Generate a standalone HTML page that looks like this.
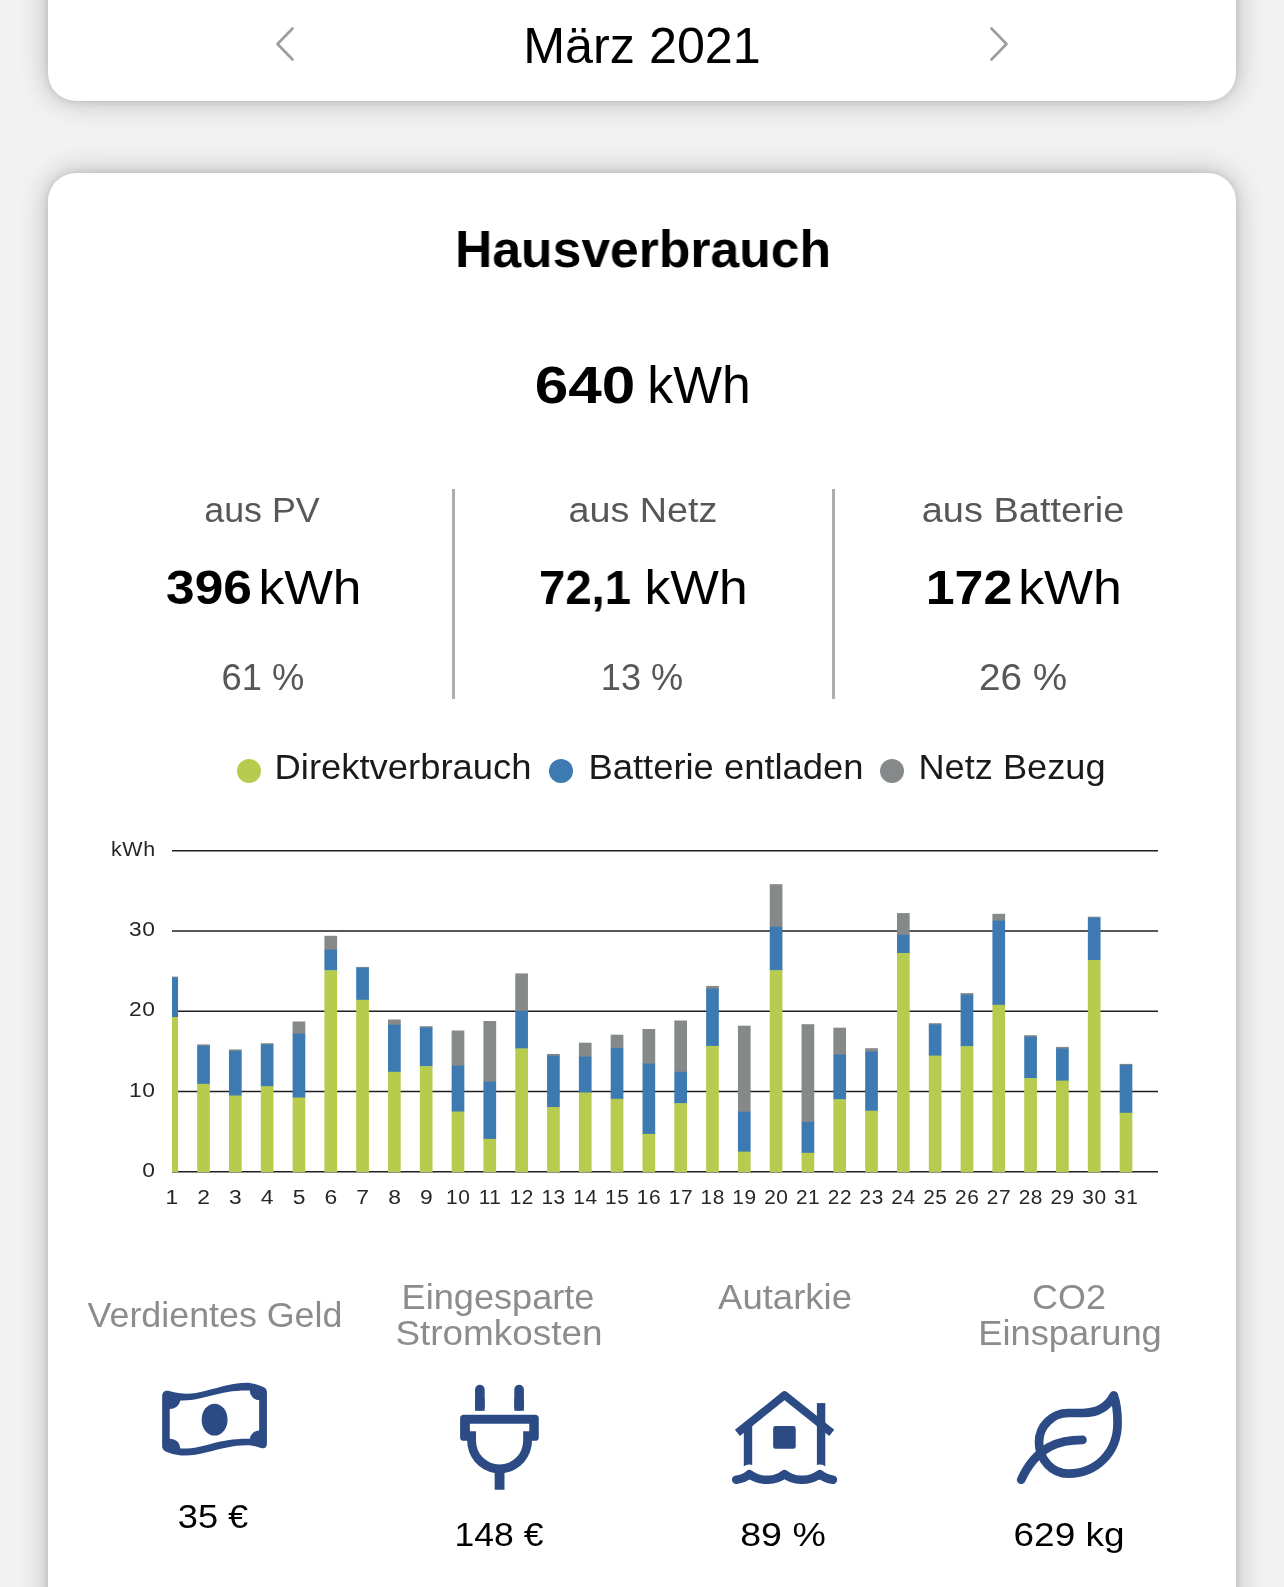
<!DOCTYPE html>
<html lang="de">
<head>
<meta charset="utf-8">
<title>Hausverbrauch – März 2021</title>
<style>
html,body{margin:0;padding:0;}
body{width:1284px;height:1587px;overflow:hidden;background:#f2f2f2;position:relative;
 font-family:"Liberation Sans",Arial,Helvetica,sans-serif;color:#000;}
.card{position:absolute;left:48px;width:1188px;background:#fff;border-radius:28px;
 box-shadow:0 0 8px rgba(0,0,0,.12),0 0 30px rgba(0,0,0,.24);}
#nav{top:-60px;height:161px;}
#main{top:173px;height:1500px;}
.t{will-change:transform;position:absolute;white-space:nowrap;line-height:1;transform:translateX(-50%);text-align:center;}
.b{font-weight:bold;}
.g5{color:#575757;}
.g8{color:#8b8d8d;}
.lg{color:#1a1a1a;}
.div{position:absolute;width:3px;top:489px;height:210px;background:#adadad;}
.dot{position:absolute;width:24px;height:24px;border-radius:50%;top:759px;}
svg{position:absolute;left:0;overflow:visible;}
.chart{top:820px;will-change:transform;}
.ax text{font-family:"Liberation Sans",Arial,sans-serif;font-size:19.5px;fill:#262626;letter-spacing:.5px;}
.ic{position:absolute;}
</style>
</head>
<body>
<div class="card" id="nav"></div>
<div class="card" id="main"></div>

<svg style="top:0" width="1284" height="100" viewBox="0 0 1284 100">
 <polyline points="292.5,28.5 277.5,44 292.5,59.5" fill="none" stroke="#9e9e9e" stroke-width="2.7" stroke-linecap="round" stroke-linejoin="round"/>
 <polyline points="991.5,28.5 1006.5,44 991.5,59.5" fill="none" stroke="#9e9e9e" stroke-width="2.7" stroke-linecap="round" stroke-linejoin="round"/>
</svg>


<div class="div" style="left:451.5px"></div>
<div class="div" style="left:831.5px"></div>

<div class="dot" style="left:237px;background:#b7cc4f"></div>
<div class="dot" style="left:549px;background:#3d7ab2"></div>
<div class="dot" style="left:880px;background:#86898a"></div>

<div class="t" id="marz" style="left:641.88px;top:20.77px;font-size:50px;transform:translateX(-50%) scaleX(1.0055)">März 2021</div>
<div class="t b" id="haus" style="left:642.78px;top:223.16px;font-size:52.5px;transform:translateX(-50%) scaleX(0.9836)">Hausverbrauch</div>
<div class="t b" id="n640" style="left:585.39px;top:359.53px;font-size:51px;transform:translateX(-50%) scaleX(1.1802)">640</div>
<div class="t" id="u640" style="left:698.59px;top:359.53px;font-size:51px;transform:translateX(-50%) scaleX(1.0134)">kWh</div>
<div class="t g5" id="l1" style="left:262.24px;top:492.85px;font-size:35.5px;transform:translateX(-50%) scaleX(1.0084)">aus PV</div>
<div class="t b" id="n1" style="left:208.60px;top:563.69px;font-size:47.5px;transform:translateX(-50%) scaleX(1.0834)">396</div>
<div class="t" id="u1" style="left:309.86px;top:563.69px;font-size:47.5px;transform:translateX(-50%) scaleX(1.0843)">kWh</div>
<div class="t g5" id="p1" style="left:262.80px;top:660.13px;font-size:36px;transform:translateX(-50%) scaleX(1.0088)">61 %</div>
<div class="t g5" id="l2" style="left:643.11px;top:492.85px;font-size:35.5px;transform:translateX(-50%) scaleX(1.0622)">aus Netz</div>
<div class="t b" id="n2" style="left:585.45px;top:563.69px;font-size:47.5px;transform:translateX(-50%) scaleX(0.9959)">72,1</div>
<div class="t" id="u2" style="left:696.08px;top:563.69px;font-size:47.5px;transform:translateX(-50%) scaleX(1.0856)">kWh</div>
<div class="t g5" id="p2" style="left:641.65px;top:660.13px;font-size:36px;transform:translateX(-50%) scaleX(1.0027)">13 %</div>
<div class="t g5" id="l3" style="left:1023.27px;top:492.85px;font-size:35.5px;transform:translateX(-50%) scaleX(1.0697)">aus Batterie</div>
<div class="t b" id="n3" style="left:969.39px;top:563.69px;font-size:47.5px;transform:translateX(-50%) scaleX(1.0941)">172</div>
<div class="t" id="u3" style="left:1069.62px;top:563.69px;font-size:47.5px;transform:translateX(-50%) scaleX(1.0897)">kWh</div>
<div class="t g5" id="p3" style="left:1023.11px;top:660.13px;font-size:36px;transform:translateX(-50%) scaleX(1.0746)">26 %</div>
<div class="t lg" id="lg1" style="left:403.21px;top:748.82px;font-size:35.3px;transform:translateX(-50%) scaleX(1.0310)">Direktverbrauch</div>
<div class="t lg" id="lg2" style="left:725.57px;top:748.82px;font-size:35.3px;transform:translateX(-50%) scaleX(1.0308)">Batterie entladen</div>
<div class="t lg" id="lg3" style="left:1012.00px;top:748.82px;font-size:35.3px;transform:translateX(-50%) scaleX(1.0257)">Netz Bezug</div>
<div class="t g8" id="k1" style="left:215.22px;top:1297.07px;font-size:35px;transform:translateX(-50%) scaleX(1.0230)">Verdientes Geld</div>
<div class="t g8" id="k2a" style="left:497.97px;top:1278.77px;font-size:35px;transform:translateX(-50%) scaleX(1.0323)">Eingesparte</div>
<div class="t g8" id="k2b" style="left:498.53px;top:1315.37px;font-size:35px;transform:translateX(-50%) scaleX(1.0545)">Stromkosten</div>
<div class="t g8" id="k3" style="left:784.97px;top:1278.77px;font-size:35px;transform:translateX(-50%) scaleX(1.0428)">Autarkie</div>
<div class="t g8" id="k4a" style="left:1068.56px;top:1278.77px;font-size:35px;transform:translateX(-50%) scaleX(1.0253)">CO2</div>
<div class="t g8" id="k4b" style="left:1069.80px;top:1315.37px;font-size:35px;transform:translateX(-50%) scaleX(1.0359)">Einsparung</div>
<div class="t" id="v1" style="left:213.35px;top:1498.72px;font-size:34px;transform:translateX(-50%) scaleX(1.0655)">35 €</div>
<div class="t" id="v2" style="left:499.43px;top:1516.62px;font-size:34px;transform:translateX(-50%) scaleX(1.0436)">148 €</div>
<div class="t" id="v3" style="left:783.04px;top:1516.62px;font-size:34px;transform:translateX(-50%) scaleX(1.1038)">89 %</div>
<div class="t" id="v4" style="left:1069.25px;top:1516.62px;font-size:34px;transform:translateX(-50%) scaleX(1.0856)">629 kg</div>

<svg class="chart" width="1284" height="420" viewBox="0 820 1284 420">
<defs><clipPath id="cp"><rect x="172.0" y="840" width="1000" height="340"/></clipPath></defs>
<line x1="172.0" x2="1158.0" y1="850.8" y2="850.8" stroke="#1f1f1f" stroke-width="1.5"/>
<line x1="172.0" x2="1158.0" y1="931.0" y2="931.0" stroke="#1f1f1f" stroke-width="1.5"/>
<line x1="172.0" x2="1158.0" y1="1011.2" y2="1011.2" stroke="#1f1f1f" stroke-width="1.5"/>
<line x1="172.0" x2="1158.0" y1="1091.5" y2="1091.5" stroke="#1f1f1f" stroke-width="1.5"/>
<line x1="172.0" x2="1158.0" y1="1171.8" y2="1171.8" stroke="#1f1f1f" stroke-width="1.5"/>
<g clip-path="url(#cp)">
<rect x="165.35" y="976.6" width="12.7" height="1.5" fill="#86898a"/>
<rect x="165.35" y="977.6" width="12.7" height="39.9" fill="#3d7ab2"/>
<rect x="165.35" y="1017.0" width="12.7" height="155.0" fill="#b7cc4f"/>
<rect x="197.16" y="1044.4" width="12.7" height="1.8" fill="#86898a"/>
<rect x="197.16" y="1045.7" width="12.7" height="38.6" fill="#3d7ab2"/>
<rect x="197.16" y="1083.8" width="12.7" height="88.2" fill="#b7cc4f"/>
<rect x="228.97" y="1049.4" width="12.7" height="2.0" fill="#86898a"/>
<rect x="228.97" y="1050.9" width="12.7" height="45.1" fill="#3d7ab2"/>
<rect x="228.97" y="1095.5" width="12.7" height="76.5" fill="#b7cc4f"/>
<rect x="260.78" y="1043.2" width="12.7" height="1.7" fill="#86898a"/>
<rect x="260.78" y="1044.4" width="12.7" height="42.4" fill="#3d7ab2"/>
<rect x="260.78" y="1086.3" width="12.7" height="85.7" fill="#b7cc4f"/>
<rect x="292.59" y="1021.5" width="12.7" height="12.7" fill="#86898a"/>
<rect x="292.59" y="1033.7" width="12.7" height="64.3" fill="#3d7ab2"/>
<rect x="292.59" y="1097.5" width="12.7" height="74.5" fill="#b7cc4f"/>
<rect x="324.40" y="935.8" width="12.7" height="14.4" fill="#86898a"/>
<rect x="324.40" y="949.7" width="12.7" height="21.0" fill="#3d7ab2"/>
<rect x="324.40" y="970.2" width="12.7" height="201.8" fill="#b7cc4f"/>
<rect x="356.21" y="966.9" width="12.7" height="1.3" fill="#86898a"/>
<rect x="356.21" y="967.7" width="12.7" height="32.6" fill="#3d7ab2"/>
<rect x="356.21" y="999.8" width="12.7" height="172.2" fill="#b7cc4f"/>
<rect x="388.02" y="1019.5" width="12.7" height="5.7" fill="#86898a"/>
<rect x="388.02" y="1024.7" width="12.7" height="47.6" fill="#3d7ab2"/>
<rect x="388.02" y="1071.8" width="12.7" height="100.2" fill="#b7cc4f"/>
<rect x="419.83" y="1026.2" width="12.7" height="1.8" fill="#86898a"/>
<rect x="419.83" y="1027.5" width="12.7" height="39.1" fill="#3d7ab2"/>
<rect x="419.83" y="1066.1" width="12.7" height="105.9" fill="#b7cc4f"/>
<rect x="451.64" y="1030.5" width="12.7" height="35.6" fill="#86898a"/>
<rect x="451.64" y="1065.6" width="12.7" height="46.4" fill="#3d7ab2"/>
<rect x="451.64" y="1111.5" width="12.7" height="60.5" fill="#b7cc4f"/>
<rect x="483.45" y="1021.0" width="12.7" height="61.1" fill="#86898a"/>
<rect x="483.45" y="1081.6" width="12.7" height="57.8" fill="#3d7ab2"/>
<rect x="483.45" y="1138.9" width="12.7" height="33.1" fill="#b7cc4f"/>
<rect x="515.26" y="973.4" width="12.7" height="37.9" fill="#86898a"/>
<rect x="515.26" y="1010.8" width="12.7" height="38.1" fill="#3d7ab2"/>
<rect x="515.26" y="1048.4" width="12.7" height="123.6" fill="#b7cc4f"/>
<rect x="547.07" y="1053.9" width="12.7" height="2.2" fill="#86898a"/>
<rect x="547.07" y="1055.6" width="12.7" height="51.9" fill="#3d7ab2"/>
<rect x="547.07" y="1107.0" width="12.7" height="65.0" fill="#b7cc4f"/>
<rect x="578.88" y="1042.7" width="12.7" height="14.4" fill="#86898a"/>
<rect x="578.88" y="1056.6" width="12.7" height="36.4" fill="#3d7ab2"/>
<rect x="578.88" y="1092.5" width="12.7" height="79.5" fill="#b7cc4f"/>
<rect x="610.69" y="1034.7" width="12.7" height="13.7" fill="#86898a"/>
<rect x="610.69" y="1047.9" width="12.7" height="51.4" fill="#3d7ab2"/>
<rect x="610.69" y="1098.8" width="12.7" height="73.2" fill="#b7cc4f"/>
<rect x="642.50" y="1029.0" width="12.7" height="35.1" fill="#86898a"/>
<rect x="642.50" y="1063.6" width="12.7" height="70.8" fill="#3d7ab2"/>
<rect x="642.50" y="1133.9" width="12.7" height="38.1" fill="#b7cc4f"/>
<rect x="674.31" y="1020.5" width="12.7" height="51.8" fill="#86898a"/>
<rect x="674.31" y="1071.8" width="12.7" height="31.9" fill="#3d7ab2"/>
<rect x="674.31" y="1103.2" width="12.7" height="68.8" fill="#b7cc4f"/>
<rect x="706.12" y="985.9" width="12.7" height="3.2" fill="#86898a"/>
<rect x="706.12" y="988.6" width="12.7" height="57.8" fill="#3d7ab2"/>
<rect x="706.12" y="1045.9" width="12.7" height="126.1" fill="#b7cc4f"/>
<rect x="737.93" y="1025.7" width="12.7" height="86.5" fill="#86898a"/>
<rect x="737.93" y="1111.7" width="12.7" height="40.4" fill="#3d7ab2"/>
<rect x="737.93" y="1151.6" width="12.7" height="20.4" fill="#b7cc4f"/>
<rect x="769.74" y="884.2" width="12.7" height="43.1" fill="#86898a"/>
<rect x="769.74" y="926.8" width="12.7" height="43.9" fill="#3d7ab2"/>
<rect x="769.74" y="970.2" width="12.7" height="201.8" fill="#b7cc4f"/>
<rect x="801.55" y="1024.2" width="12.7" height="98.2" fill="#86898a"/>
<rect x="801.55" y="1121.9" width="12.7" height="31.4" fill="#3d7ab2"/>
<rect x="801.55" y="1152.8" width="12.7" height="19.2" fill="#b7cc4f"/>
<rect x="833.36" y="1027.7" width="12.7" height="27.2" fill="#86898a"/>
<rect x="833.36" y="1054.4" width="12.7" height="45.4" fill="#3d7ab2"/>
<rect x="833.36" y="1099.3" width="12.7" height="72.7" fill="#b7cc4f"/>
<rect x="865.17" y="1048.2" width="12.7" height="3.7" fill="#86898a"/>
<rect x="865.17" y="1051.4" width="12.7" height="59.8" fill="#3d7ab2"/>
<rect x="865.17" y="1110.7" width="12.7" height="61.3" fill="#b7cc4f"/>
<rect x="896.98" y="913.1" width="12.7" height="22.2" fill="#86898a"/>
<rect x="896.98" y="934.8" width="12.7" height="18.7" fill="#3d7ab2"/>
<rect x="896.98" y="953.0" width="12.7" height="219.0" fill="#b7cc4f"/>
<rect x="928.79" y="1023.2" width="12.7" height="1.8" fill="#86898a"/>
<rect x="928.79" y="1024.5" width="12.7" height="31.6" fill="#3d7ab2"/>
<rect x="928.79" y="1055.6" width="12.7" height="116.4" fill="#b7cc4f"/>
<rect x="960.60" y="993.1" width="12.7" height="2.0" fill="#86898a"/>
<rect x="960.60" y="994.6" width="12.7" height="52.1" fill="#3d7ab2"/>
<rect x="960.60" y="1046.2" width="12.7" height="125.8" fill="#b7cc4f"/>
<rect x="992.41" y="913.8" width="12.7" height="7.3" fill="#86898a"/>
<rect x="992.41" y="920.6" width="12.7" height="84.7" fill="#3d7ab2"/>
<rect x="992.41" y="1004.8" width="12.7" height="167.2" fill="#b7cc4f"/>
<rect x="1024.22" y="1035.2" width="12.7" height="2.0" fill="#86898a"/>
<rect x="1024.22" y="1036.7" width="12.7" height="41.9" fill="#3d7ab2"/>
<rect x="1024.22" y="1078.1" width="12.7" height="93.9" fill="#b7cc4f"/>
<rect x="1056.03" y="1046.9" width="12.7" height="2.0" fill="#86898a"/>
<rect x="1056.03" y="1048.4" width="12.7" height="32.7" fill="#3d7ab2"/>
<rect x="1056.03" y="1080.6" width="12.7" height="91.4" fill="#b7cc4f"/>
<rect x="1087.84" y="916.7" width="12.7" height="1.5" fill="#86898a"/>
<rect x="1087.84" y="917.7" width="12.7" height="42.8" fill="#3d7ab2"/>
<rect x="1087.84" y="960.0" width="12.7" height="212.0" fill="#b7cc4f"/>
<rect x="1119.65" y="1063.9" width="12.7" height="1.5" fill="#86898a"/>
<rect x="1119.65" y="1064.9" width="12.7" height="48.4" fill="#3d7ab2"/>
<rect x="1119.65" y="1112.8" width="12.7" height="59.2" fill="#b7cc4f"/>
</g>
<g class="ax" text-anchor="end">
<text transform="translate(155.6,856.1) scale(1.100,1)">kWh</text>
<text transform="translate(155.6,935.9) scale(1.170,1)">30</text>
<text transform="translate(155.6,1016.4) scale(1.170,1)">20</text>
<text transform="translate(155.6,1096.8) scale(1.170,1)">10</text>
<text transform="translate(155.6,1177.0) scale(1.170,1)">0</text>
</g>
<g class="ax" text-anchor="middle">
<text transform="translate(172.1,1203.6) scale(1.170,1)">1</text>
<text transform="translate(203.9,1203.6) scale(1.170,1)">2</text>
<text transform="translate(235.7,1203.6) scale(1.170,1)">3</text>
<text transform="translate(267.5,1203.6) scale(1.170,1)">4</text>
<text transform="translate(299.3,1203.6) scale(1.170,1)">5</text>
<text transform="translate(331.1,1203.6) scale(1.170,1)">6</text>
<text transform="translate(363.0,1203.6) scale(1.170,1)">7</text>
<text transform="translate(394.8,1203.6) scale(1.170,1)">8</text>
<text transform="translate(426.6,1203.6) scale(1.170,1)">9</text>
<text transform="translate(458.2,1203.6) scale(1.070,1)">10</text>
<text transform="translate(490.0,1203.6) scale(1.070,1)">11</text>
<text transform="translate(521.8,1203.6) scale(1.070,1)">12</text>
<text transform="translate(553.6,1203.6) scale(1.070,1)">13</text>
<text transform="translate(585.4,1203.6) scale(1.070,1)">14</text>
<text transform="translate(617.2,1203.6) scale(1.070,1)">15</text>
<text transform="translate(649.0,1203.6) scale(1.070,1)">16</text>
<text transform="translate(680.9,1203.6) scale(1.070,1)">17</text>
<text transform="translate(712.7,1203.6) scale(1.070,1)">18</text>
<text transform="translate(744.5,1203.6) scale(1.070,1)">19</text>
<text transform="translate(776.3,1203.6) scale(1.070,1)">20</text>
<text transform="translate(808.1,1203.6) scale(1.070,1)">21</text>
<text transform="translate(839.9,1203.6) scale(1.070,1)">22</text>
<text transform="translate(871.7,1203.6) scale(1.070,1)">23</text>
<text transform="translate(903.5,1203.6) scale(1.070,1)">24</text>
<text transform="translate(935.3,1203.6) scale(1.070,1)">25</text>
<text transform="translate(967.2,1203.6) scale(1.070,1)">26</text>
<text transform="translate(999.0,1203.6) scale(1.070,1)">27</text>
<text transform="translate(1030.8,1203.6) scale(1.070,1)">28</text>
<text transform="translate(1062.6,1203.6) scale(1.070,1)">29</text>
<text transform="translate(1094.4,1203.6) scale(1.070,1)">30</text>
<text transform="translate(1126.2,1203.6) scale(1.070,1)">31</text>
</g>
</svg>



<svg class="ic" style="left:150px;top:1370px" width="130" height="95" viewBox="0 0 1284 938" fill="#2c4b85">
 <path fill-rule="evenodd" d="M120,262 C120,215 150,198 190,208 C330,245 420,240 550,205 C700,165 830,125 950,125 C1010,125 1070,145 1120,168 C1145,180 1155,195 1155,225 L1155,725 C1155,765 1130,782 1095,770 C1040,752 1000,742 950,742 C830,742 700,775 550,815 C420,850 300,860 180,815 C140,800 120,785 120,750 Z M195,385 A105,105 0 0 0 300,300 C420,305 520,275 600,255 C720,222 830,200 985,203 A95,95 0 0 0 1078,298 L1078,598 A92,92 0 0 0 986,680 C830,677 720,700 600,730 C520,752 420,780 300,775 A100,100 0 0 0 195,678 Z"/>
 <ellipse cx="638" cy="490" rx="128" ry="158"/>
</svg>
<svg class="ic" style="left:440px;top:1375px" width="120" height="125" viewBox="0 0 1284 1338" fill="#2c4b85">
 <rect x="375" y="105" width="103" height="278" rx="51.5"/><rect x="375" y="250" width="103" height="133"/>
 <rect x="795" y="105" width="103" height="278" rx="51.5"/><rect x="795" y="250" width="103" height="133"/>
 <path fill-rule="evenodd" d="M255,425 H1017 Q1057,425 1057,465 V665 Q1057,705 1017,705 H984.5 A347,347 0 0 1 690,1048 V1228 H585 V1048 A347,347 0 0 1 290.5,705 H255 Q215,705 215,665 V465 Q215,425 255,425 Z M320,523 H955 V603 H890 V705 A252.5,252.5 0 0 1 385,705 V603 H320 Z"/>
</svg>
<svg class="ic" style="left:720px;top:1380px" width="130" height="115" viewBox="0 0 1284 1136" fill="#2c4b85">
 <rect x="235" y="420" width="83" height="480"/>
 <rect x="957" y="228" width="83" height="672"/>
 <path d="M160,985 Q240,975 290,930 Q370,990 465,985 Q560,990 637,930 Q715,990 810,985 Q905,990 985,930 Q1040,975 1115,985" fill="none" stroke="#fff" stroke-width="190" stroke-linecap="round" stroke-linejoin="round"/>
 <path d="M160,985 Q240,975 290,930 Q370,990 465,985 Q560,990 637,930 Q715,990 810,985 Q905,990 985,930 Q1040,975 1115,985" fill="none" stroke="#2c4b85" stroke-width="85" stroke-linecap="round" stroke-linejoin="round"/>
 <polyline points="172,523 637,150 1104,523" fill="none" stroke="#2c4b85" stroke-width="78" stroke-linejoin="round"/>
 <rect x="525" y="455" width="223" height="225" rx="24"/>
</svg>
<svg class="ic" style="left:1005px;top:1380px" width="130" height="115" viewBox="0 0 1284 1136" fill="none" stroke="#2c4b85" stroke-width="86" stroke-linecap="round" stroke-linejoin="round">
 <path d="M1075,152 C1010,275 900,326 770,326 L625,326 C465,326 336,455 336,615 C336,786 466,925 625,925 C900,925 1112,720 1112,425 C1112,320 1100,225 1075,152 Z"/>
 <path d="M160,985 C230,830 330,720 440,660 C540,610 650,592 765,592"/>
</svg>

</body>
</html>
